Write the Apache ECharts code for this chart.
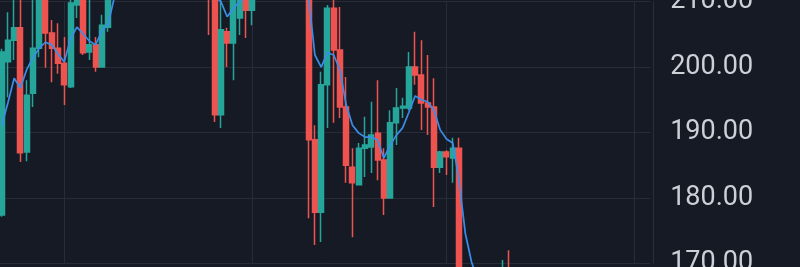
<!DOCTYPE html>
<html>
<head>
<meta charset="utf-8">
<script src="https://cdn.jsdelivr.net/npm/echarts@6/dist/echarts.min.js"></script>
<style>
html,body{margin:0;padding:0;background:#161a25;}
#chart{width:800px;height:267px;}
</style>
</head>
<body>
<div id="chart"></div>
<script>
// Daily categories (Mar 22 .. Jul 3)
const categories = [
'03-22','03-23','03-24','03-25','03-26','03-27','03-28','03-29','03-30','03-31',
'04-01','04-02','04-03','04-04','04-05','04-06','04-07','04-08','04-09','04-10',
'04-11','04-12','04-13','04-14','04-15','04-16','04-17','04-18','04-19','04-20',
'04-21','04-22','04-23','04-24','04-25','04-26','04-27','04-28','04-29','04-30',
'05-01','05-02','05-03','05-04','05-05','05-06','05-07','05-08','05-09','05-10',
'05-11','05-12','05-13','05-14','05-15','05-16','05-17','05-18','05-19','05-20',
'05-21','05-22','05-23','05-24','05-25','05-26','05-27','05-28','05-29','05-30',
'05-31','06-01','06-02','06-03','06-04','06-05','06-06','06-07','06-08','06-09',
'06-10','06-11','06-12','06-13','06-14','06-15','06-16','06-17','06-18','06-19',
'06-20','06-21','06-22','06-23','06-24','06-25','06-26','06-27','06-28','06-29',
'06-30','07-01','07-02','07-03'
];
const monthStarts = ['04-01','05-01','06-01','07-01'];

const opens = [177.4,200.8,204.1,206.0,187.0,196.0,202.9,212.0,205.2,202.9,
200.6,197.0,209.5,212.0,202.3,203.4,200.0,206.1,211.5,214.2,
216.8,215.1,218.9,217.2,214.6,216.3,219.5,218.0,221.2,219.4,
216.7,217.9,215.3,214.0,213.0,192.7,205.4,203.7,207.5,212.0,
208.7,212.2,215.0,213.6,216.8,219.1,217.3,215.2,216.4,214.1,
188.9,177.8,197.3,209.0,202.6,193.9,184.7,182.0,187.6,187.8,
189.9,185.8,180.0,191.5,193.75,193.75,200.0,198.8,194.5,193.9,
184.7,187.0,186.1,187.6,165.0,162.0,160.0,163.0,161.0,164.0,
162.0,166.0];
const closes = [202.3,204.1,206.0,186.9,195.7,202.9,212.0,205.2,202.9,200.6,
197.3,209.8,211.5,202.2,203.4,200.0,206.4,211.5,214.2,216.8,
215.1,218.9,217.2,214.6,216.3,219.5,218.0,221.2,219.4,216.7,
217.9,215.3,214.0,211.0,192.7,205.7,203.7,211.2,212.0,208.7,
212.2,215.0,213.6,216.8,219.1,217.3,215.2,216.4,214.1,188.9,
177.8,197.3,209.0,202.6,193.9,185.0,182.3,187.6,188.1,189.6,
185.8,180.0,191.5,193.75,194.0,200.0,198.8,194.5,193.9,184.7,
187.0,186.3,187.6,165.0,162.0,160.0,163.0,161.0,164.0,162.0,
166.0,163.0];
const lows = [177.1,195.4,201.1,185.5,185.6,193.9,201.5,199.9,197.7,199.0,
194.2,196.8,207.5,201.85,201.1,199.3,199.9,205.4,210.8,212.9,
213.4,214.2,215.0,212.8,212.5,215.2,216.1,217.0,217.5,215.3,
214.8,213.6,212.0,204.9,191.6,190.7,200.0,198.0,204.9,204.45,
206.4,211.0,211.8,212.7,215.4,215.9,213.1,212.9,211.2,176.9,
172.8,173.25,190.7,191.5,192.2,182.3,174.0,181.9,183.2,183.8,
182.7,177.4,180.0,188.1,192.2,193.4,197.3,190.4,189.6,178.6,
183.8,183.5,182.3,163.0,160.0,158.0,158.0,159.0,160.0,160.0,
161.0,162.0];
const highs = [202.8,208.4,211.0,212.0,198.0,211.0,214.0,214.0,207.2,206.7,
204.6,211.0,213.0,213.0,211.0,204.6,208.0,213.0,215.6,218.3,
218.0,220.5,220.1,218.4,217.9,221.4,221.0,222.8,222.3,220.2,
219.6,218.8,216.5,215.5,215.0,211.0,206.0,212.0,213.0,213.0,
214.0,216.4,216.9,218.2,220.7,220.4,218.6,217.8,217.5,216.0,
191.1,199.3,209.5,210.3,209.2,198.5,187.6,188.4,192.4,194.7,
198.0,187.6,193.4,196.8,195.3,202.3,205.4,204.1,201.85,198.3,
187.2,187.3,189.2,189.2,168.0,166.0,165.0,167.0,168.0,168.5,
170.5,172.0];
const maLine = [191.0,194.5,198.3,196.8,199.6,201.4,202.9,203.8,203.4,202.0,
200.8,204.3,206.1,205.1,204.0,203.4,205.5,206.6,210.7,212.5,
213.6,214.4,215.1,215.8,216.2,216.4,216.9,217.3,217.6,217.8,
217.5,216.9,215.8,213.5,210.8,210.0,207.7,209.0,210.0,211.0,
212.0,212.8,213.5,214.1,214.8,215.4,215.6,215.3,214.5,210.6,
201.85,200.0,202.2,201.85,199.55,194.2,191.1,189.9,189.3,189.3,
188.85,186.1,188.0,189.6,190.7,193.1,195.6,195.0,194.7,193.4,
190.4,189.0,188.4,182.7,174.6,170.2,167.4,165.9,164.8,164.1,
163.9,163.8];
const yTicks = [170, 180, 190, 200, 210];

const candles = opens.map((o, i) => [o, closes[i], lows[i], highs[i]]);

const chart = echarts.init(document.getElementById('chart'), null, {renderer: 'canvas'});
chart.setOption({
  animation: false,
  backgroundColor: '#161a25',
  grid: { left: -1.53, right: 149.87, top: 1.7, bottom: 3.7, containLabel: false, outerBoundsMode: 'none' },
  xAxis: {
    type: 'category',
    data: categories,
    boundaryGap: true,
    axisLine: { show: false },
    axisTick: { show: false },
    axisLabel: { show: false },
    splitLine: { show: false }
  },
  yAxis: {
    type: 'value',
    position: 'right',
    offset: 3,
    min: yTicks[0],
    max: yTicks[yTicks.length - 1],
    interval: 10,
    axisLine: { show: true, lineStyle: { color: '#2a2e39', width: 1 } },
    axisTick: { show: false },
    axisLabel: {
      margin: 17,
      color: '#cdd0d6',
      fontSize: 27,
      fontFamily: 'Roboto',
      formatter: v => v.toFixed(2)
    },
    splitLine: { show: true, lineStyle: { color: '#282c37', width: 1 } }
  },
  series: [
    {
      type: 'line',
      data: [],
      z: 1,
      silent: true,
      markLine: {
        silent: true,
        z: 1,
        symbol: ['none', 'none'],
        label: { show: false },
        lineStyle: { color: '#282c37', width: 1, type: 'solid' },
        data: monthStarts.map(m => ({ xAxis: m }))
      }
    },
    {
      type: 'candlestick',
      data: candles,
      clip: false,
      barWidth: 5.5,
      z: 2,
      itemStyle: {
        color: '#26a69a',
        color0: '#ef5350',
        borderColor: '#26a69a',
        borderColor0: '#ef5350',
        borderWidth: 1.5
      }
    },
    {
      type: 'line',
      data: maLine,
      clip: false,
      z: 3,
      symbol: 'none',
      smooth: false,
      lineStyle: { color: '#3b8ee8', width: 1.7 }
    }
  ]
});
</script>
</body>
</html>
